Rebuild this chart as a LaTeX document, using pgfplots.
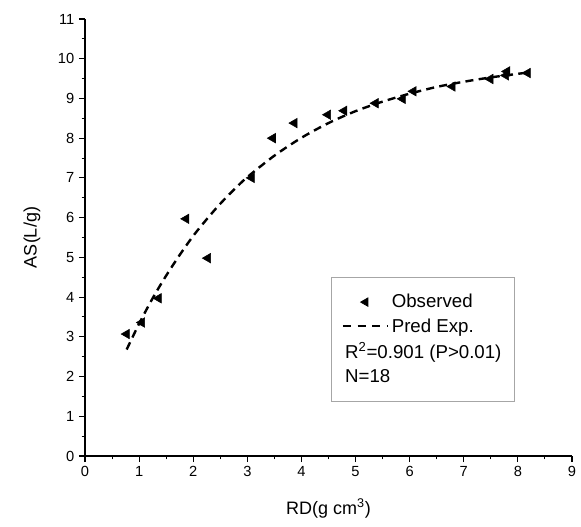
\documentclass[border=0pt]{standalone}
\usepackage{fontspec}
\setmainfont{Liberation Sans}
\usepackage{pgfplots}
\pgfplotsset{compat=1.18}

\begin{document}
\begin{tikzpicture}
\path[use as bounding box] (-63.75pt,-53.25pt) rectangle (372pt,342pt);
\begin{axis}[
  scale only axis, width=365.25pt, height=327.75pt,
  xmin=0, xmax=9, ymin=0, ymax=11,
  axis x line*=bottom, axis y line*=left,
  axis line style={-, line width=0.8pt},
  xtick={0,...,9}, ytick={0,...,11},
  minor tick num=1,
  tick align=outside,
  major tick length=4.5pt, minor tick length=2.5pt,
  tick style={line width=0.8pt, black},
  ticklabel style={font=\fontsize{11}{12}\selectfont},
  /pgf/number format/assume math mode=true,
  xlabel={RD(g cm\textsuperscript{3})},
  ylabel={AS(L/g)},
  every axis x label/.style={at={(axis description cs:0.5,-0.119)}, anchor=center,
    font=\fontsize{13.5}{16}\selectfont},
  every axis y label/.style={at={(axis description cs:-0.109,0.5)}, anchor=center, rotate=90,
    font=\fontsize{13.5}{16}\selectfont},
  legend cell align=left,
  legend style={at={(0.5045,0.4044)}, anchor=north west, draw=gray!70, line width=0.6pt,
    font=\fontsize{14}{16}\selectfont, inner xsep=8pt, inner ysep=11pt, row sep=2.5pt,
    yshift=2pt},
]
\addplot[only marks, mark=triangle*, mark size=4.1pt, mark options={rotate=90, fill=black},
  legend image code/.code={\draw[mark repeat=2, mark phase=2, mark size=3.6pt] plot coordinates {(0pt,0pt) (16.9pt,0pt) (33.75pt,0pt)};}]
  coordinates {(0.77,3.07) (1.05,3.36) (1.36,3.97) (1.87,5.97) (2.27,4.98) (3.08,7.0)
    (3.47,8.0) (3.87,8.38) (4.49,8.59) (4.79,8.69) (5.37,8.88) (5.87,8.99) (6.07,9.18)
    (6.79,9.3) (7.49,9.49) (7.78,9.58) (7.8,9.68) (8.18,9.64)};
\addlegendentry{Observed}
\addplot[black, line width=1.8pt, dash pattern=on 6pt off 4pt, smooth,
  legend image code/.code={\draw[line width=1.8pt, dash pattern=on 6pt off 5pt] (0pt,0pt) -- (33.75pt,0pt);}]
  coordinates {(0.77,2.68) (1.0,3.33) (1.25,3.97) (1.5,4.54) (1.75,5.06) (2.0,5.54)
    (2.25,5.96) (2.5,6.35) (2.75,6.70) (3.0,7.02) (3.5,7.56) (4.0,8.01) (4.5,8.38)
    (5.0,8.68) (5.5,8.92) (6.0,9.12) (6.5,9.29) (7.0,9.42) (7.5,9.53) (8.0,9.62) (8.23,9.66)};
\addlegendentry{Pred Exp.}
\addlegendimage{empty legend}
\addlegendentry{\hspace{-35pt}R\textsuperscript{2}=0.901 (P>0.01)}
\addlegendimage{empty legend}
\addlegendentry{\hspace{-35pt}N=18}
\end{axis}
\end{tikzpicture}
\end{document}
